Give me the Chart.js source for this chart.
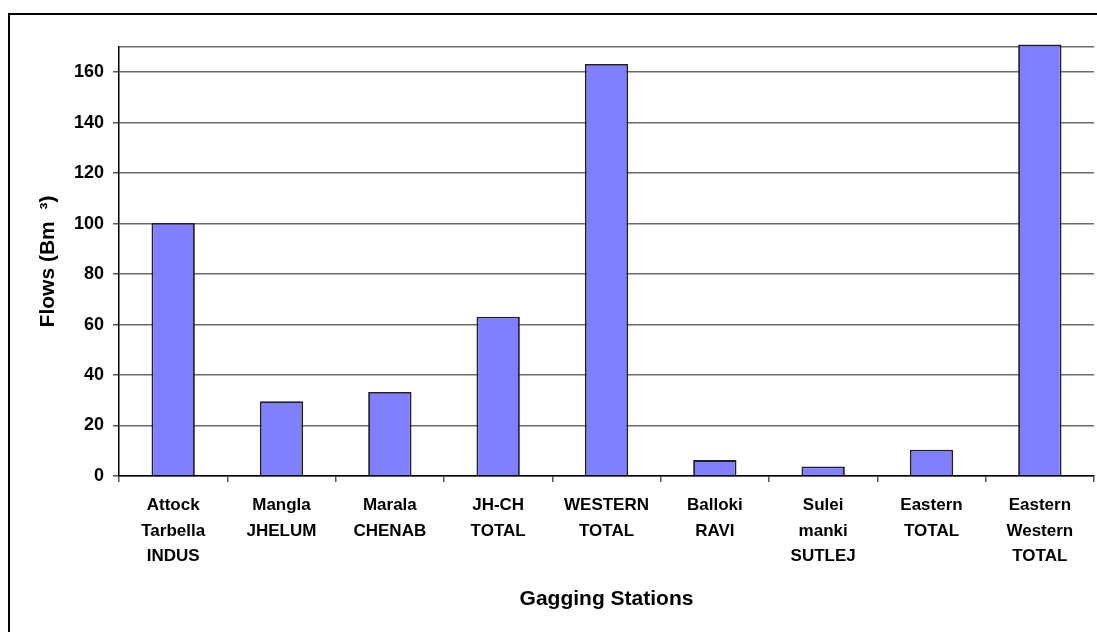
<!DOCTYPE html>
<html>
<head>
<meta charset="utf-8">
<script src="https://cdn.jsdelivr.net/npm/chart.js@4/dist/chart.umd.min.js"></script>
<style>
html,body{margin:0;padding:0;background:#fff;}
#wrap{width:1097px;height:632px;}
</style>
</head>
<body>
<div id="wrap"><canvas id="c" width="1097" height="632"></canvas></div>
<script>
const categories = [
  ["Attock", "Tarbella", "INDUS"],
  ["Mangla", "JHELUM"],
  ["Marala", "CHENAB"],
  ["JH-CH", "TOTAL"],
  ["WESTERN", "TOTAL"],
  ["Balloki", "RAVI"],
  ["Sulei", "manki", "SUTLEJ"],
  ["Eastern", "TOTAL"],
  ["Eastern", "Western", "TOTAL"]
];
const flows = [100.3, 29.6, 33.3, 63.1, 163.3, 6.3, 3.8, 10.4, 171];
const yTickValues = [0, 20, 40, 60, 80, 100, 120, 140, 160];
const yMax = 170;
const xTitle = "Gagging Stations";
const yTitle = "Flows (Bm  \u00B3)";

const frame = {
  id: 'frame',
  beforeDraw(chart) {
    const ctx = chart.ctx;
    ctx.save();
    ctx.fillStyle = '#fff';
    ctx.fillRect(0, 0, chart.width, chart.height);
    ctx.strokeStyle = '#000';
    ctx.lineWidth = 2;
    ctx.beginPath();
    ctx.moveTo(9, 700);
    ctx.lineTo(9, 14);
    ctx.lineTo(1097, 14);
    ctx.stroke();
    ctx.restore();
  }
};

new Chart(document.getElementById('c'), {
  type: 'bar',
  data: {
    labels: categories,
    datasets: [{
      data: flows,
      backgroundColor: '#8080FF',
      borderColor: '#1e1e2e',
      borderWidth: 1.8,
      barPercentage: 0.4,
      categoryPercentage: 1.0,
      clip: false
    }]
  },
  options: {
    responsive: false,
    animation: false,
    devicePixelRatio: 1,
    layout: { padding: { left: 0, top: 47, right: 3, bottom: 0 } },
    plugins: { legend: { display: false }, tooltip: { enabled: false } },
    scales: {
      x: {
        offset: true,
        afterFit(s) { s.height = 156; },
        grid: {
          offset: true,
          color: (c) => (c.index === categories.length ? '#8a8a8a' : 'rgba(0,0,0,0)'),
          tickColor: '#555',
          lineWidth: 1.5,
          tickLength: 6
        },
        border: { color: '#000', width: 1.5 },
        ticks: {
          color: '#000',
          padding: 11,
          maxRotation: 0,
          autoSkip: false,
          font: { family: 'Liberation Sans, Arial, sans-serif', size: 17, weight: 'bold', lineHeight: 1.5 }
        },
        title: {
          display: true,
          text: xTitle,
          color: '#000',
          padding: { top: 0, bottom: 20 },
          font: { family: 'Liberation Sans, Arial, sans-serif', size: 21, weight: 'bold' }
        }
      },
      y: {
        min: 0,
        max: yMax,
        afterFit(s) { s.width = 119; },
        afterBuildTicks(s) {
          s.ticks = yTickValues.map(v => ({ value: v })).concat([{ value: yMax }]);
        },
        grid: {
          color: '#6a6a6a',
          lineWidth: 1.5,
          tickLength: 6,
          tickColor: (c) => (c.tick && c.tick.value === yMax ? 'rgba(0,0,0,0)' : '#555')
        },
        border: { color: '#000', width: 1.5 },
        ticks: {
          color: '#000',
          padding: 9,
          callback: (v) => (yTickValues.includes(v) ? String(v) : ''),
          font: { family: 'Liberation Sans, Arial, sans-serif', size: 18, weight: 'bold' }
        },
        title: {
          display: true,
          text: yTitle,
          color: '#000',
          padding: { top: 36, bottom: 0 },
          font: { family: 'Liberation Sans, Arial, sans-serif', size: 21, weight: 'bold' }
        }
      }
    }
  },
  plugins: [frame]
});
</script>
</body>
</html>
